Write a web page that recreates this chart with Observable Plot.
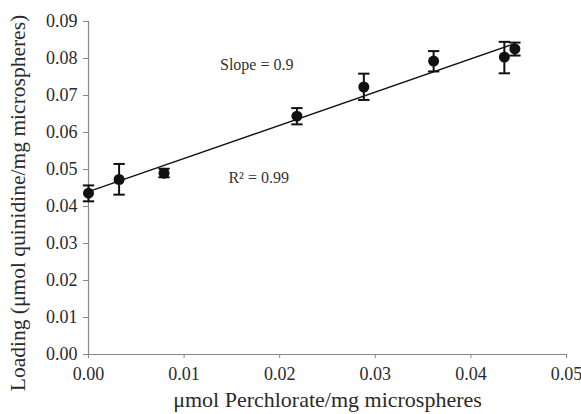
<!DOCTYPE html>
<html>
<head>
<meta charset="utf-8">
<script src="https://cdn.jsdelivr.net/npm/d3@7"></script>
<script src="https://cdn.jsdelivr.net/npm/@observablehq/plot@0.6"></script>
<style>
  html, body { margin: 0; padding: 0; background: #fff; }
  #chart svg { display: block; }
  #chart g[aria-label="x-axis tick label"] text,
  #chart g[aria-label="y-axis tick label"] text { font-size: 18px !important; fill: #2a2a2a; }
  #chart g[aria-label="x-axis label"] text { font-size: 22px !important; fill: #2a2a2a; }
</style>
</head>
<body>
<div id="chart"></div>
<script>
// Data
const perchlorate = [0.0000, 0.0032, 0.0079, 0.0218, 0.0288, 0.0361, 0.0435, 0.0446];
const loading     = [0.0436, 0.0473, 0.0490, 0.0644, 0.0723, 0.0793, 0.0804, 0.0826];
const errLow      = [0.0414, 0.0432, 0.0479, 0.0622, 0.0688, 0.0765, 0.0760, 0.0808];
const errHigh     = [0.0457, 0.0515, 0.0502, 0.0666, 0.0759, 0.0820, 0.0845, 0.0843];

const xTicks = [0, 0.01, 0.02, 0.03, 0.04, 0.05];
const yTicks = [0, 0.01, 0.02, 0.03, 0.04, 0.05, 0.06, 0.07, 0.08, 0.09];

const xLabel = "μmol Perchlorate/mg microspheres";
const yLabel = "Loading (μmol quinidine/mg microspheres)";

const noteText = ["Slope = 0.9", "R² = 0.99"];
const noteX    = [0.0176, 0.0178];
const noteY    = [0.0784, 0.0478];

const data = perchlorate.map((x, i) => ({x, y: loading[i], lo: errLow[i], hi: errHigh[i]}));
const notes = noteText.map((t, i) => ({t, x: noteX[i], y: noteY[i]}));

const capSymbol = {
  draw(ctx, size) {
    const w = Math.sqrt(size);
    ctx.moveTo(-w, 0);
    ctx.lineTo(w, 0);
  }
};

const fmt = d3.format(".2f");
const font = "'Liberation Serif', 'DejaVu Serif', serif";

const plot = Plot.plot({
  width: 581,
  height: 414,
  marginLeft: 88,
  marginRight: 15,
  marginTop: 21,
  marginBottom: 60,
  style: {fontFamily: font, fontSize: "17px", color: "#111", background: "#fff"},
  x: {domain: [0, 0.05]},
  y: {domain: [0, 0.09]},
  marks: [
    Plot.ruleX([0], {stroke: "#888", strokeWidth: 1.2}),
    Plot.ruleY([0], {stroke: "#888", strokeWidth: 1.2}),
    Plot.axisX({ticks: xTicks, tickFormat: fmt, tickSize: 4, tickPadding: 9, stroke: "#888",
      label: xLabel, labelAnchor: "center", labelArrow: "none", labelOffset: 52}),
    Plot.axisY({ticks: yTicks, tickFormat: fmt, tickSize: 5, tickPadding: 6, stroke: "#888",
      label: null}),
    Plot.text([yLabel], {frameAnchor: "left", textAnchor: "middle", lineAnchor: "middle",
      rotate: -90, dx: -70, dy: 15, fontSize: 21.5, fill: "#2a2a2a", fontFamily: font}),
    Plot.linearRegressionY(data, {x: "x", y: "y", ci: 0, stroke: "#111", strokeWidth: 1.4}),
    Plot.ruleX(data, {x: "x", y1: "lo", y2: "hi", stroke: "#111", strokeWidth: 2}),
    Plot.dot(data, {x: "x", y: "lo", symbol: capSymbol, r: 3.2, stroke: "#111", strokeWidth: 2}),
    Plot.dot(data, {x: "x", y: "hi", symbol: capSymbol, r: 3.2, stroke: "#111", strokeWidth: 2}),
    Plot.dot(data, {x: "x", y: "y", r: 5.5, fill: "#111", stroke: "none"}),
    Plot.text(notes, {x: "x", y: "y", text: "t", fontSize: 16, fill: "#333", fontFamily: font})
  ]
});
document.getElementById("chart").appendChild(plot);
</script>
</body>
</html>
